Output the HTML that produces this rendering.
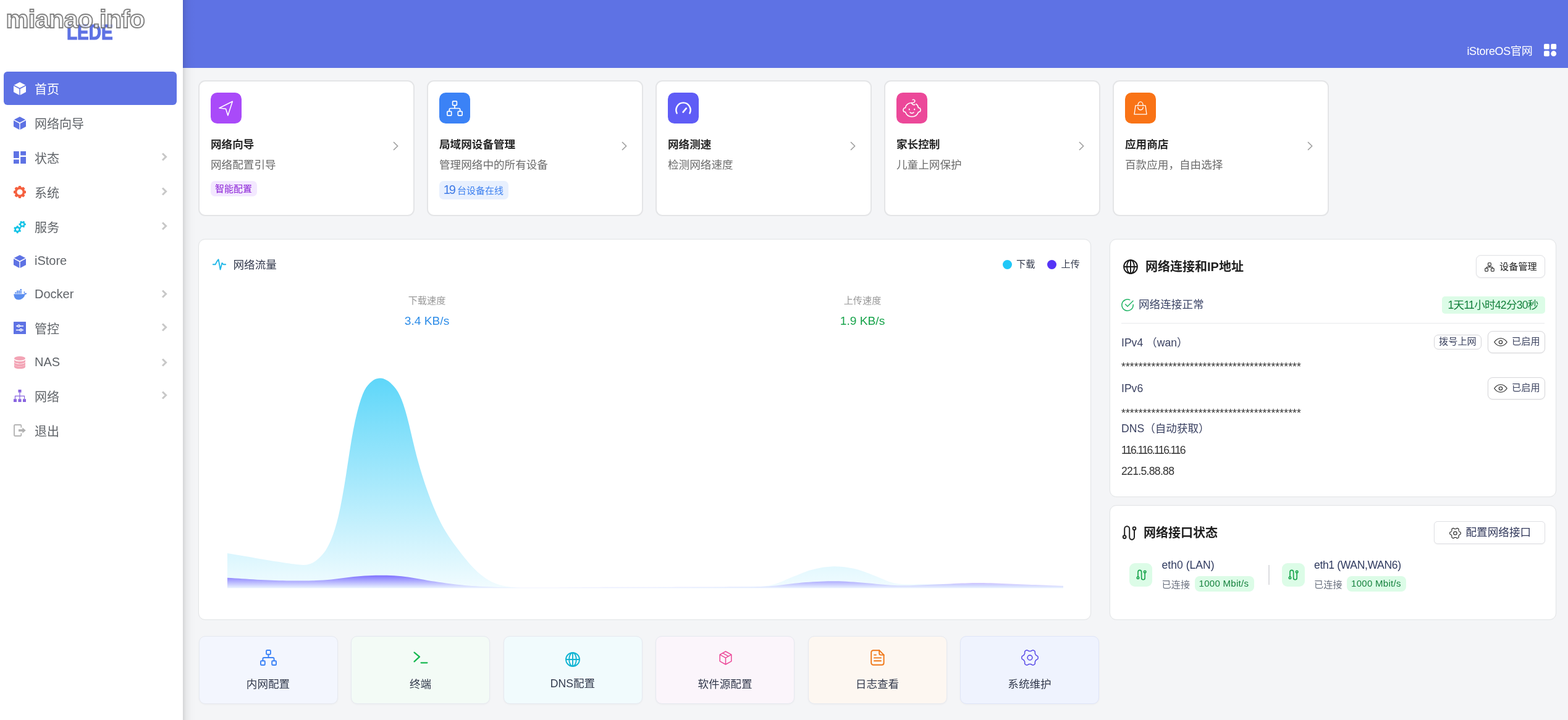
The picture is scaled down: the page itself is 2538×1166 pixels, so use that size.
<!DOCTYPE html>
<html lang="zh-CN">
<head>
<meta charset="utf-8">
<title>LEDE - 首页</title>
<style>
*{box-sizing:border-box;margin:0;padding:0}
html,body{width:2538px;height:1166px;overflow:hidden;background:#f4f5f7}
body{position:relative;font-family:"Liberation Sans","Noto Sans CJK SC",sans-serif;color:#32325d;-webkit-font-smoothing:antialiased}
.abs{position:absolute}
.t{position:absolute;white-space:nowrap;line-height:1}
svg{position:absolute;overflow:visible}
/* layout */
#header{position:absolute;left:296px;top:0;width:2242px;height:110px;background:#5e72e4}
#side{position:absolute;left:0;top:0;width:296px;height:1166px;background:#fff}
#sideshadow{position:absolute;left:296px;top:0;width:22px;height:1166px;background:linear-gradient(90deg,rgba(0,0,0,.13) 0,rgba(0,0,0,.05) 25%,rgba(0,0,0,.012) 60%,rgba(0,0,0,0) 100%)}
#active{position:absolute;left:6px;top:116px;width:280px;height:54px;border-radius:6px;background:#5e72e4}
.mi{position:absolute;left:56px;font-size:20px;line-height:28px;height:28px;color:#5f6368;white-space:nowrap}
.chev{position:absolute;left:260px;width:12px;height:14px}
.card{position:absolute;background:#fff;border:1px solid #e3e5e7;border-radius:11px;box-shadow:0 0 2px rgba(0,0,0,.03)}
.card.top{border:2px solid #e4e5e7;border-radius:11px;box-shadow:none}
.ico{position:absolute;width:50px;height:50px;border-radius:10.500px}
.ct{position:absolute;font-size:17.6px;font-weight:700;color:#262626;line-height:26px;white-space:nowrap}
.cs{position:absolute;font-size:17.6px;color:#6b6b6b;line-height:26px;white-space:nowrap}
.btn{position:absolute;background:#fff;border:1px solid #dfe0e4;border-radius:8px;box-shadow:0 1px 2px rgba(0,0,0,.05)}
.qa{position:absolute;top:1029.500px;width:225px;height:110px;border-radius:10px;border:1px solid #e6e9f0;box-shadow:0 1px 3px rgba(0,0,0,.04)}
.qa span{position:absolute;left:0;right:0;top:64.500px;text-align:center;font-size:17.6px;line-height:26px;color:#333a4d}
.row{position:absolute;left:1815px;font-size:17.6px;line-height:26px;color:#3b4262;white-space:nowrap}
</style>
</head>
<body>
<div id="header"></div>
<div id="sideshadow"></div>
<div id="side"></div>
<div class="t" id="wm" style="left:9.500px;top:8px;font-size:41.500px;line-height:46px;font-weight:700;letter-spacing:-.750px;filter:blur(.35px);color:rgba(255,255,255,.75);-webkit-text-stroke:1.850px rgba(112,112,112,.88);z-index:5">mianao.info</div>
<div class="t" id="logo" style="left:108px;top:33.700px;font-size:35px;line-height:35px;font-weight:700;color:#5e72e4;transform-origin:0 50%;transform:scaleX(.8);-webkit-text-stroke:1.2px #5e72e4">LEDE</div>
<div id="active"></div>
<!-- icons -->
<svg style="left:22px;top:132.5px" width="20" height="21" viewBox="0 0 20 21"><g fill="#fff"><path d="M10 0 19.2 4.7 10 9.6 0.8 4.7Z"/><path d="M0 6.1 9.3 11 9.3 21 0 16Z"/><path d="M20 6.1 10.7 11 10.7 21 20 16Z"/></g></svg>
<svg style="left:22px;top:188.5px" width="20" height="21" viewBox="0 0 20 21"><g fill="#5e72e4"><path d="M10 0 19.2 4.7 10 9.6 0.8 4.7Z"/><path d="M0 6.1 9.3 11 9.3 21 0 16Z"/><path d="M20 6.1 10.7 11 10.7 21 20 16Z"/></g></svg>
<svg style="left:22px;top:245px" width="20" height="20" viewBox="0 0 20 20"><g fill="#5e72e4"><rect x="0" y="0" width="8.8" height="11"/><rect x="11.2" y="0" width="8.8" height="6.6"/><rect x="0" y="13.4" width="8.8" height="6.6"/><rect x="11.2" y="9" width="8.8" height="11"/></g></svg>
<svg style="left:22px;top:301px" width="20" height="20" viewBox="0 0 20 20"><g transform="translate(10 10)"><circle r="6.4" fill="none" stroke="#f5603f" stroke-width="3.6"/><g fill="#f5603f"><rect x="-2.2" y="-10" width="4.4" height="4" rx="1"/><rect x="-2.2" y="-10" width="4.4" height="4" rx="1" transform="rotate(45)"/><rect x="-2.2" y="-10" width="4.4" height="4" rx="1" transform="rotate(90)"/><rect x="-2.2" y="-10" width="4.4" height="4" rx="1" transform="rotate(135)"/><rect x="-2.2" y="-10" width="4.4" height="4" rx="1" transform="rotate(180)"/><rect x="-2.2" y="-10" width="4.4" height="4" rx="1" transform="rotate(225)"/><rect x="-2.2" y="-10" width="4.4" height="4" rx="1" transform="rotate(270)"/><rect x="-2.2" y="-10" width="4.4" height="4" rx="1" transform="rotate(315)"/></g></g></svg>
<svg style="left:22px;top:357px" width="20" height="21" viewBox="0 0 20 21"><g id="sg" transform="translate(6.2 14.6)"><circle r="3.5" fill="none" stroke="#11c3e6" stroke-width="2.6"/><g fill="#11c3e6"><rect x="-1.4" y="-6.2" width="2.8" height="2.6" rx=".6"/><rect x="-1.4" y="-6.2" width="2.8" height="2.6" rx=".6" transform="rotate(60)"/><rect x="-1.4" y="-6.2" width="2.8" height="2.6" rx=".6" transform="rotate(120)"/><rect x="-1.4" y="-6.2" width="2.8" height="2.6" rx=".6" transform="rotate(180)"/><rect x="-1.4" y="-6.2" width="2.8" height="2.6" rx=".6" transform="rotate(240)"/><rect x="-1.4" y="-6.2" width="2.8" height="2.6" rx=".6" transform="rotate(300)"/></g></g><g transform="translate(14.2 6.2) scale(.92)"><circle r="3.5" fill="none" stroke="#11c3e6" stroke-width="2.6"/><g fill="#11c3e6"><rect x="-1.4" y="-6.2" width="2.8" height="2.6" rx=".6" transform="rotate(30)"/><rect x="-1.4" y="-6.2" width="2.8" height="2.6" rx=".6" transform="rotate(90)"/><rect x="-1.4" y="-6.2" width="2.8" height="2.6" rx=".6" transform="rotate(150)"/><rect x="-1.4" y="-6.2" width="2.8" height="2.6" rx=".6" transform="rotate(210)"/><rect x="-1.4" y="-6.2" width="2.8" height="2.6" rx=".6" transform="rotate(270)"/><rect x="-1.4" y="-6.2" width="2.8" height="2.6" rx=".6" transform="rotate(330)"/></g></g></svg>
<svg style="left:22px;top:412.5px" width="20" height="21" viewBox="0 0 20 21"><g fill="#5e72e4"><path d="M10 0 19.2 4.7 10 9.6 0.8 4.7Z"/><path d="M0 6.1 9.3 11 9.3 21 0 16Z"/><path d="M20 6.1 10.7 11 10.7 21 20 16Z"/></g></svg>
<svg style="left:22px;top:467.5px" width="22" height="18" viewBox="0 0 22 18"><g fill="#5b8def"><path d="M.3 8.2H16.6C17.4 8.1 17.9 7.6 18.2 6.9 19.3 6.3 20.6 6.5 21.6 7 21 8.3 19.9 9 18.4 9.1 17.6 13.6 13.8 17.4 8.2 17.4 3.5 17.4.6 14.4.3 8.2Z"/><rect x="2.2" y="5.2" width="2.3" height="2.2"/><rect x="5" y="5.2" width="2.3" height="2.2"/><rect x="7.8" y="5.2" width="2.3" height="2.2"/><rect x="10.6" y="5.2" width="2.3" height="2.2"/><rect x="5" y="2.6" width="2.3" height="2.2"/><rect x="7.8" y="2.6" width="2.3" height="2.2"/><rect x="10.6" y="2.6" width="2.3" height="2.2"/><rect x="10.6" y="0" width="2.3" height="2.2"/><path d="M17.2 3.6C18 4.4 18.3 5.4 18.1 6.6L17.2 7.2C16.4 6 16.4 4.7 17.2 3.6Z"/></g></svg>
<svg style="left:22px;top:521px" width="20" height="20" viewBox="0 0 20 20"><rect width="20" height="20" rx=".6" fill="#5e72e4"/><g stroke="#fff" stroke-width="1.5" fill="#5e72e4"><path d="M4 6.9H16M4 13.4H16" fill="none"/><circle cx="8.4" cy="6.9" r="1.7"/><circle cx="11.8" cy="13.4" r="1.7"/></g></svg>
<svg style="left:23px;top:577px" width="18" height="20" viewBox="0 0 18 20"><g fill="#f3a4b5"><ellipse cx="9" cy="3.4" rx="9" ry="3.4"/><path d="M0 5.4C1.5 7.6 5 8.3 9 8.3S16.500 7.600 18 5.400V8.600C18 10.500 14 12 9 12S0 10.500 0 8.600Z"/><path d="M0 9.400C1.5 11.600 5 12.300 9 12.300S16.500 11.600 18 9.400V12.600C18 14.500 14 16 9 16S0 14.500 0 12.600Z" transform="translate(0 .3)"/><path d="M0 13.400C1.5 15.600 5 16.300 9 16.300S16.500 15.600 18 13.400V16.600C18 18.500 14 20 9 20S0 18.500 0 16.600Z" transform="translate(0 .3)"/></g></svg>
<svg style="left:22px;top:631px" width="20" height="20" viewBox="0 0 20 20"><g fill="#8965e0"><rect x="7.500" y="0" width="5" height="4.600"/><rect x="0" y="15.200" width="5" height="4.800"/><rect x="7.500" y="15.200" width="5" height="4.800"/><rect x="15" y="15.200" width="5" height="4.800"/></g><path d="M10 4.600V15.200M2.500 15.200V10.300H17.500V15.200" fill="none" stroke="#8965e0" stroke-width="1.200"/></svg>
<svg style="left:22px;top:687px" width="20" height="20" viewBox="0 0 20 20"><path d="M12.300 5.500V2.200C12.300 1.500 11.800 1 11.100 1H2.200C1.500 1 1 1.500 1 2.200V17.800C1 18.500 1.500 19 2.200 19H11.100C11.800 19 12.300 18.500 12.300 17.800V14.500" fill="none" stroke="#b5b5b5" stroke-width="1.900"/><path d="M8 8.200H14.300V5.400L19.800 10 14.300 14.600V11.800H8Z" fill="#b0b0b0"/></svg>
<!-- labels -->
<div class="mi" style="top:131px;color:#fff">首页</div>
<div class="mi" style="top:187px">网络向导</div>
<div class="mi" style="top:243px">状态</div>
<div class="mi" style="top:299px">系统</div>
<div class="mi" style="top:355px">服务</div>
<div class="mi" style="top:408.3px">iStore</div>
<div class="mi" style="top:462.3px">Docker</div>
<div class="mi" style="top:519px">管控</div>
<div class="mi" style="top:572.3px">NAS</div>
<div class="mi" style="top:629px">网络</div>
<div class="mi" style="top:685px">退出</div>
<!-- chevrons -->
<svg class="chev" style="top:246.9px" viewBox="0 0 12 14"><path d="M3 1.500 8.600 7 3 12.500" fill="none" stroke="#c8c8c8" stroke-width="3" stroke-linejoin="miter"/></svg>
<svg class="chev" style="top:302.9px" viewBox="0 0 12 14"><path d="M3 1.500 8.600 7 3 12.500" fill="none" stroke="#c8c8c8" stroke-width="3"/></svg>
<svg class="chev" style="top:358.9px" viewBox="0 0 12 14"><path d="M3 1.500 8.600 7 3 12.500" fill="none" stroke="#c8c8c8" stroke-width="3"/></svg>
<svg class="chev" style="top:468.9px" viewBox="0 0 12 14"><path d="M3 1.500 8.600 7 3 12.500" fill="none" stroke="#c8c8c8" stroke-width="3"/></svg>
<svg class="chev" style="top:522.9px" viewBox="0 0 12 14"><path d="M3 1.500 8.600 7 3 12.500" fill="none" stroke="#c8c8c8" stroke-width="3"/></svg>
<svg class="chev" style="top:579.8px" viewBox="0 0 12 14"><path d="M3 1.500 8.600 7 3 12.500" fill="none" stroke="#c8c8c8" stroke-width="3"/></svg>
<svg class="chev" style="top:632.9px" viewBox="0 0 12 14"><path d="M3 1.500 8.600 7 3 12.500" fill="none" stroke="#c8c8c8" stroke-width="3"/></svg>

<div class="t" style="left:2374.400px;top:70.300px;font-size:18px;line-height:26px;color:#fff;letter-spacing:-.3px">iStoreOS官网</div>
<svg style="left:2499px;top:70.800px" width="20.200" height="20.200" viewBox="0 0 21 21"><g fill="#fff"><rect x="0" y="0" width="9.200" height="9.200" rx="2"/><rect x="11.800" y="0" width="9.200" height="9.200" rx="2"/><rect x="0" y="11.800" width="9.200" height="9.200" rx="2"/><circle cx="16.400" cy="16.400" r="4.600"/></g></svg>

<div class="card top" style="left:321px;top:130px;width:349.700px;height:220.400px"></div>
<div class="ico" style="left:341px;top:150px;background:#a94af9"></div>
<svg style="left:354.0px;top:163px" width="24" height="25" viewBox="0 0 24 25"><path d="M22.300 1.300 0.900 12 11.500 13.300 14.900 24Z" fill="none" stroke="#fff" stroke-width="1.600" stroke-linejoin="round"/></svg>
<div class="ct" style="left:341px;top:220.900px">网络向导</div>
<div class="cs" style="left:341px;top:253.500px">网络配置引导</div>
<svg style="left:636px;top:229px" width="9" height="15" viewBox="0 0 9 15"><path d="M1 1 7.600 7.500 1 14" fill="none" stroke="#9a9a9a" stroke-width="1.500"/></svg>
<div class="card top" style="left:691px;top:130px;width:349.700px;height:220.400px"></div>
<div class="ico" style="left:711px;top:150px;background:#3b82f6"></div>
<svg style="left:723.0px;top:162.500px" width="26" height="25" viewBox="0 0 26 25"><g fill="none" stroke="#fff" stroke-width="1.700" stroke-linejoin="round"><rect x="9.600" y=".900" width="6.800" height="6.800" rx="1.200"/><rect x=".900" y="17.300" width="6.800" height="6.800" rx="1.200"/><rect x="18.300" y="17.300" width="6.800" height="6.800" rx="1.200"/><path d="M13 7.700V12.500M4.300 17.300V14.500C4.300 13.400 5.200 12.500 6.300 12.500H19.700C20.800 12.500 21.700 13.400 21.700 14.500V17.300"/></g></svg>
<div class="ct" style="left:711px;top:220.900px">局域网设备管理</div>
<div class="cs" style="left:711px;top:253.500px">管理网络中的所有设备</div>
<svg style="left:1006px;top:229px" width="9" height="15" viewBox="0 0 9 15"><path d="M1 1 7.600 7.500 1 14" fill="none" stroke="#9a9a9a" stroke-width="1.500"/></svg>
<div class="card top" style="left:1061px;top:130px;width:349.700px;height:220.400px"></div>
<div class="ico" style="left:1081px;top:150px;background:#5f5cf6"></div>
<svg style="left:1093.0px;top:165px" width="26" height="20" viewBox="0 0 26 20"><g fill="none" stroke="#fff" stroke-width="2.400" stroke-linecap="round"><path d="M2.600 18.400C-1 11 4 1.400 13 1.400S27 11 23.400 18.400"/><path d="M12.600 16.600 17.800 10.400" stroke-width="2.600"/></g></svg>
<div class="ct" style="left:1081px;top:220.900px">网络测速</div>
<div class="cs" style="left:1081px;top:253.500px">检测网络速度</div>
<svg style="left:1376px;top:229px" width="9" height="15" viewBox="0 0 9 15"><path d="M1 1 7.600 7.500 1 14" fill="none" stroke="#9a9a9a" stroke-width="1.500"/></svg>
<div class="card top" style="left:1431px;top:130px;width:349.700px;height:220.400px"></div>
<div class="ico" style="left:1451px;top:150px;background:#ec4899"></div>
<svg style="left:1461.0px;top:160px" width="30" height="30" viewBox="0 0 30 30"><g fill="none" stroke="#fff" stroke-width="1.600" stroke-linecap="round"><path d="M14.500 6.500C9 6.500 5 10.200 4.500 14.500 2.500 14.500 1 16 1 18S2.500 21.500 4.500 21.500C6 26 10 29 15 29S24 26 25.500 21.500C27.500 21.500 29 20 29 18S27.500 14.500 25.500 14.500C25.200 12 23.800 9.800 21.800 8.400"/><path d="M14.500 6.500C17.500 6.800 19.800 5.600 19.800 3.600 19.800 1.800 17.800.800 16.200 1.600M14.500 6.500C15.200 9 17.800 10.200 19.800 9.400"/><path d="M10.800 16.800V17.600M19.200 16.800V17.600" stroke-width="2"/><path d="M12 22C13.600 23.800 16.400 23.800 18 22"/></g></svg>
<div class="ct" style="left:1451px;top:220.900px">家长控制</div>
<div class="cs" style="left:1451px;top:253.500px">儿童上网保护</div>
<svg style="left:1746px;top:229px" width="9" height="15" viewBox="0 0 9 15"><path d="M1 1 7.600 7.500 1 14" fill="none" stroke="#9a9a9a" stroke-width="1.500"/></svg>
<div class="card top" style="left:1801px;top:130px;width:349.700px;height:220.400px"></div>
<div class="ico" style="left:1821px;top:150px;background:#f97316"></div>
<svg style="left:1835.0px;top:164px" width="22" height="22" viewBox="0 0 22 22"><g fill="none" stroke="#fff" stroke-width="1.300" stroke-linejoin="round" stroke-linecap="round"><path d="M3 6.800H19L21 21.200H1Z"/><path d="M6.800 6.800C6.800 3.500 8.600.800 11 .800S15.200 3.500 15.200 6.800"/><path d="M6.800 9.600C6.800 12.200 8.600 14 11 14S15.200 12.200 15.200 9.600"/></g></svg>
<div class="ct" style="left:1821px;top:220.900px">应用商店</div>
<div class="cs" style="left:1821px;top:253.500px">百款应用，自由选择</div>
<svg style="left:2116px;top:229px" width="9" height="15" viewBox="0 0 9 15"><path d="M1 1 7.600 7.500 1 14" fill="none" stroke="#9a9a9a" stroke-width="1.500"/></svg>
<div class="abs" style="left:341px;top:293px;width:75px;height:24.500px;border-radius:7px;background:#f3e8ff"></div>
<div class="t" style="left:348px;top:296px;font-size:15px;line-height:19px;color:#8b22d6">智能配置</div>
<div class="abs" style="left:711px;top:293px;width:112px;height:30px;border-radius:7px;background:#e8f0fe"></div>
<div class="t" style="left:717.800px;top:294px;font-size:20px;line-height:26px;color:#3f7ae6;letter-spacing:-2.200px">19</div>
<div class="t" style="left:740px;top:298.600px;font-size:15px;line-height:20px;color:#3f82f0">台设备在线</div>

<div class="card" style="left:321px;top:387px;width:1445px;height:617px"></div>
<svg style="left:344px;top:419px" width="22" height="19" viewBox="0 0 22 19"><path d="M.8 9.2H4.600L7 4.600 9.600 1.200 12.600 17.600 15.400 7 17.400 9.200H21.200" fill="none" stroke="#22b8e8" stroke-width="1.900" stroke-linejoin="round" stroke-linecap="round"/></svg>
<div class="t" style="left:377.500px;top:415.500px;font-size:17.600px;line-height:26px;color:#333a4d">网络流量</div>
<div class="abs" style="left:1622.500px;top:420.500px;width:15px;height:15px;border-radius:50%;background:#20c7f7"></div>
<div class="t" style="left:1645px;top:417px;font-size:15.200px;line-height:22px;color:#333a4d">下载</div>
<div class="abs" style="left:1694.500px;top:420.500px;width:15px;height:15px;border-radius:50%;background:#5534f6"></div>
<div class="t" style="left:1717.500px;top:417px;font-size:15.200px;line-height:22px;color:#333a4d">上传</div>
<div class="t" style="left:591px;width:200px;text-align:center;top:476px;font-size:15.200px;line-height:22px;color:#999">下载速度</div>
<div class="t" style="left:591px;width:200px;text-align:center;top:507px;font-size:19.200px;line-height:26px;color:#2e8de8">3.4 KB/s</div>
<div class="t" style="left:1296px;width:200px;text-align:center;top:476px;font-size:15.200px;line-height:22px;color:#999">上传速度</div>
<div class="t" style="left:1296px;width:200px;text-align:center;top:507px;font-size:19.200px;line-height:26px;color:#16a34a">1.9 KB/s</div>
<svg style="left:0;top:0" width="2538" height="1166" viewBox="0 0 2538 1166"><defs><linearGradient id="gc" gradientUnits="userSpaceOnUse" x1="0" y1="613" x2="0" y2="952.500"><stop offset="0" stop-color="#20c7f7" stop-opacity=".72"/><stop offset="1" stop-color="#20c7f7" stop-opacity=".06"/></linearGradient><linearGradient id="gp" gradientUnits="userSpaceOnUse" x1="0" y1="931.500" x2="0" y2="952.500"><stop offset="0" stop-color="#553bff" stop-opacity=".72"/><stop offset="1" stop-color="#553bff" stop-opacity=".04"/></linearGradient></defs>
<path d="M368.0 895.90L371 896.42L374 896.93L377 897.45L380 897.96L383 898.48L386 899.00L389 899.52L392 900.03L395 900.55L398 901.06L401 901.58L404 902.09L407 902.61L410 903.12L413 903.63L416 904.14L419 904.65L422 905.16L425 905.66L428 906.17L431 906.66L434 907.16L437 907.66L440 908.15L443 908.64L446 909.13L449 909.62L452 910.10L455 910.57L458 911.04L461 911.50L464 911.94L467 912.37L470 912.79L473 913.20L476 913.60L479 913.98L482 914.32L485 914.61L488 914.81L491 914.89L494 914.78L497 914.40L500 913.71L503 912.70L506 911.38L509 909.71L512 907.58L515 905.02L518 902.19L521 899.10L524 895.59L527 891.40L530 886.36L533 880.43L536 873.64L539 865.92L542 857.08L545 846.80L548 834.76L551 820.88L554 805.34L557 788.29L560 769.73L563 750.06L566 730.44L569 712.03L572 695.39L575 680.69L578 667.88L581 656.69L584 646.94L587 638.68L590 632.05L593 627.00L596 623.16L599 620.04L602 617.41L605 615.33L608 613.86L611 612.92L614 612.47L617 612.53L620 613.11L623 614.17L626 615.66L629 617.61L632 620.03L635 622.88L638 626.14L641 629.93L644 634.51L647 640.15L650 647.06L653 655.31L656 664.87L659 675.62L662 687.37L665 699.90L668 712.80L671 725.37L674 737.19L677 748.25L680 758.67L683 768.55L686 777.94L689 786.90L692 795.50L695 803.74L698 811.63L701 819.16L704 826.32L707 833.13L710 839.58L713 845.69L716 851.43L719 856.79L722 861.80L725 866.52L728 871.03L731 875.41L734 879.66L737 883.81L740 887.84L743 891.79L746 895.65L749 899.44L752 903.17L755 906.84L758 910.43L761 913.90L764 917.22L767 920.36L770 923.33L773 926.13L776 928.75L779 931.22L782 933.53L785 935.68L788 937.68L791 939.53L794 941.21L797 942.72L800 944.05L803 945.22L806 946.24L809 947.14L812 947.94L815 948.64L818 949.26L821 949.80L824 950.27L827 950.68L830 951.05L833 951.37L836 951.63L839 951.80L842 951.89L845 951.93L848 951.95L851 951.97L854 951.98L857 951.99L860 952.00L863 952.01L866 952.01L869 952.02L872 952.02L875 952.01L878 952.01L881 952.00L884 952.00L887 951.99L890 951.98L893 951.97L896 951.96L899 951.95L902 951.94L905 951.93L908 951.92L911 951.91L914 951.89L917 951.88L920 951.87L923 951.86L926 951.84L929 951.83L932 951.82L935 951.80L938 951.79L941 951.77L944 951.76L947 951.75L950 951.73L953 951.72L956 951.71L959 951.69L962 951.68L965 951.67L968 951.66L971 951.64L974 951.63L977 951.62L980 951.61L983 951.60L986 951.59L989 951.58L992 951.57L995 951.56L998 951.56L1001 951.55L1004 951.54L1007 951.53L1010 951.52L1013 951.52L1016 951.51L1019 951.50L1022 951.49L1025 951.49L1028 951.48L1031 951.47L1034 951.46L1037 951.46L1040 951.45L1043 951.44L1046 951.43L1049 951.42L1052 951.42L1055 951.41L1058 951.40L1061 951.39L1064 951.38L1067 951.37L1070 951.36L1073 951.35L1076 951.34L1079 951.33L1082 951.32L1085 951.30L1088 951.29L1091 951.28L1094 951.26L1097 951.25L1100 951.23L1103 951.22L1106 951.20L1109 951.18L1112 951.16L1115 951.15L1118 951.13L1121 951.11L1124 951.09L1127 951.08L1130 951.06L1133 951.04L1136 951.02L1139 951.00L1142 950.98L1145 950.96L1148 950.94L1151 950.92L1154 950.89L1157 950.87L1160 950.84L1163 950.82L1166 950.79L1169 950.76L1172 950.73L1175 950.69L1178 950.66L1181 950.62L1184 950.58L1187 950.54L1190 950.49L1193 950.44L1196 950.38L1199 950.32L1202 950.27L1205 950.22L1208 950.18L1211 950.15L1214 950.13L1217 950.11L1220 950.09L1223 950.06L1226 950.01L1229 949.92L1232 949.77L1235 949.56L1238 949.26L1241 948.87L1244 948.38L1247 947.79L1250 947.08L1253 946.25L1256 945.31L1259 944.25L1262 943.11L1265 941.90L1268 940.64L1271 939.34L1274 938.03L1277 936.75L1280 935.50L1283 934.29L1286 933.11L1289 931.92L1292 930.71L1295 929.49L1298 928.27L1301 927.07L1304 925.92L1307 924.84L1310 923.85L1313 922.96L1316 922.15L1319 921.42L1322 920.75L1325 920.13L1328 919.57L1331 919.06L1334 918.61L1337 918.23L1340 917.91L1343 917.65L1346 917.47L1349 917.37L1352 917.35L1355 917.40L1358 917.53L1361 917.73L1364 918.00L1367 918.34L1370 918.73L1373 919.18L1376 919.69L1379 920.25L1382 920.87L1385 921.55L1388 922.32L1391 923.19L1394 924.15L1397 925.18L1400 926.28L1403 927.43L1406 928.59L1409 929.75L1412 930.90L1415 932.04L1418 933.20L1421 934.42L1424 935.69L1427 937.01L1430 938.32L1433 939.60L1436 940.80L1439 941.90L1442 942.87L1445 943.71L1448 944.40L1451 944.96L1454 945.40L1457 945.74L1460 945.98L1463 946.13L1466 946.22L1469 946.26L1472 946.25L1475 946.22L1478 946.18L1481 946.13L1484 946.08L1487 946.04L1490 946.01L1493 945.99L1496 945.99L1499 946.00L1502 946.01L1505 946.03L1508 946.05L1511 946.06L1514 946.07L1517 946.07L1520 946.08L1523 946.08L1526 946.09L1529 946.09L1532 946.09L1535 946.09L1538 946.09L1541 946.09L1544 946.09L1547 946.09L1550 946.09L1553 946.09L1556 946.09L1559 946.09L1562 946.09L1565 946.09L1568 946.09L1571 946.09L1574 946.10L1577 946.10L1580 946.11L1583 946.12L1586 946.13L1589 946.14L1592 946.16L1595 946.18L1598 946.20L1601 946.23L1604 946.26L1607 946.29L1610 946.33L1613 946.37L1616 946.42L1619 946.47L1622 946.52L1625 946.57L1628 946.63L1631 946.70L1634 946.76L1637 946.83L1640 946.90L1643 946.98L1646 947.05L1649 947.12L1652 947.20L1655 947.28L1658 947.35L1661 947.43L1664 947.50L1667 947.58L1670 947.66L1673 947.74L1676 947.83L1679 947.92L1682 948.00L1685 948.09L1688 948.18L1691 948.27L1694 948.36L1697 948.46L1700 948.55L1703 948.64L1706 948.74L1709 948.83L1712 948.92L1715 949.02L1718 949.11L1721 949.20L1721.0 952.5L368.0 952.5Z" fill="url(#gc)"/>
<path d="M368.0 935.71L374 936.07L380 936.45L386 936.83L392 937.20L398 937.58L404 937.94L410 938.30L416 938.65L422 938.97L428 939.28L434 939.56L440 939.80L446 940.01L452 940.18L458 940.33L464 940.45L470 940.54L476 940.60L482 940.62L488 940.61L494 940.57L500 940.48L506 940.33L512 940.12L518 939.83L524 939.46L530 939.01L536 938.45L542 937.79L548 937.04L554 936.23L560 935.41L566 934.64L572 933.95L578 933.38L584 932.90L590 932.50L596 932.18L602 931.95L608 931.80L614 931.74L620 931.75L626 931.83L632 932.00L638 932.28L644 932.68L650 933.21L656 933.90L662 934.73L668 935.68L674 936.72L680 937.80L686 938.87L692 939.92L698 940.90L704 941.83L710 942.73L716 943.60L722 944.45L728 945.26L734 946.02L740 946.72L746 947.36L752 947.93L758 948.44L764 948.88L770 949.28L776 949.65L782 949.98L788 950.29L794 950.59L800 950.85L806 951.08L812 951.25L818 951.36L824 951.44L830 951.50L836 951.54L842 951.56L848 951.57L854 951.56L860 951.55L866 951.54L872 951.52L878 951.50L884 951.47L890 951.45L896 951.42L902 951.39L908 951.35L914 951.32L920 951.27L926 951.23L932 951.18L938 951.13L944 951.08L950 951.03L956 950.98L962 950.94L968 950.89L974 950.85L980 950.81L986 950.77L992 950.74L998 950.71L1004 950.69L1010 950.67L1016 950.66L1022 950.65L1028 950.64L1034 950.64L1040 950.63L1046 950.63L1052 950.63L1058 950.63L1064 950.63L1070 950.63L1076 950.63L1082 950.63L1088 950.63L1094 950.62L1100 950.61L1106 950.60L1112 950.58L1118 950.57L1124 950.55L1130 950.53L1136 950.52L1142 950.50L1148 950.48L1154 950.45L1160 950.43L1166 950.40L1172 950.38L1178 950.35L1184 950.31L1190 950.27L1196 950.23L1202 950.19L1208 950.17L1214 950.15L1220 950.15L1226 950.11L1232 950.01L1238 949.80L1244 949.47L1250 949.02L1256 948.45L1262 947.78L1268 947.04L1274 946.28L1280 945.52L1286 944.80L1292 944.14L1298 943.56L1304 943.08L1310 942.66L1316 942.29L1322 941.97L1328 941.70L1334 941.49L1340 941.34L1346 941.26L1352 941.25L1358 941.34L1364 941.53L1370 941.81L1376 942.16L1382 942.56L1388 942.98L1394 943.42L1400 943.91L1406 944.45L1412 945.03L1418 945.63L1424 946.22L1430 946.79L1436 947.29L1442 947.71L1448 948.03L1454 948.23L1460 948.30L1466 948.26L1472 948.13L1478 947.93L1484 947.69L1490 947.44L1496 947.20L1502 946.97L1508 946.75L1514 946.51L1520 946.24L1526 945.96L1532 945.68L1538 945.39L1544 945.12L1550 944.86L1556 944.62L1562 944.42L1568 944.24L1574 944.12L1580 944.05L1586 944.03L1592 944.08L1598 944.17L1604 944.31L1610 944.49L1616 944.69L1622 944.92L1628 945.17L1634 945.42L1640 945.69L1646 945.95L1652 946.20L1658 946.44L1664 946.67L1670 946.88L1676 947.10L1682 947.32L1688 947.55L1694 947.77L1700 948.00L1706 948.23L1712 948.46L1718 948.69L1721 948.80L1721.0 952.5L368.0 952.5Z" fill="url(#gp)"/>
</svg>

<div class="card" style="left:1796px;top:387px;width:723px;height:418px"></div>
<svg style="left:1818px;top:420px" width="24" height="24" viewBox="0 0 24 24"><g fill="none" stroke="#1a1a1a" stroke-width="1.900"><circle cx="12" cy="12" r="10.900"/><ellipse cx="12" cy="12" rx="6" ry="10.900"/><path d="M12 1.100V22.900M1.100 12H22.900"/></g></svg>
<div class="t" style="left:1854px;top:417.500px;font-size:20px;font-weight:700;line-height:28px;color:#1f1f1f">网络连接和IP地址</div>
<div class="btn" style="left:2389px;top:413px;width:112px;height:37px;border-radius:8px"></div>
<svg style="left:2403px;top:425px" width="16" height="15" viewBox="0 0 16 15"><g fill="none" stroke="#444" stroke-width="1.300" stroke-linejoin="round"><rect x="5.600" y=".700" width="4.800" height="4.800" rx="1.200"/><rect x=".700" y="9.500" width="4.800" height="4.800" rx="1.200"/><rect x="10.500" y="9.500" width="4.800" height="4.800" rx="1.200"/><path d="M8 5.500V7.500M3.100 9.500V8.500C3.100 7.900 3.500 7.500 4.100 7.500H11.900C12.500 7.500 12.900 7.900 12.900 8.500V9.500"/></g></svg>
<div class="t" style="left:2427px;top:420.500px;font-size:15.200px;line-height:22px;color:#222">设备管理</div>
<svg style="left:1815px;top:484px" width="20" height="20" viewBox="0 0 20 20"><g fill="none" stroke="#22b566" stroke-width="1.500" stroke-linecap="round" stroke-linejoin="round"><path d="M19.200 9.200V10A9.200 9.200 0 1 1 13.700 1.600"/><path d="M19 3.200 10 12.200 6.600 8.800"/></g></svg>
<div class="t" style="left:1843px;top:480px;font-size:17.600px;line-height:26px;color:#3d4668">网络连接正常</div>
<div class="abs" style="left:2334px;top:480px;width:167px;height:28px;border-radius:5px;background:#dcfce7"></div>
<div class="t" style="left:2343.500px;top:480.500px;font-size:17.600px;line-height:26px;color:#15803d;letter-spacing:-.75px">1天11小时42分30秒</div>
<div class="abs" style="left:1815px;top:523px;width:685px;height:1px;background:#e8e9ec"></div>
<div class="row" style="top:541.500px">IPv4 （wan）</div>
<div class="abs" style="left:2321px;top:542px;width:77px;height:24px;border:1px solid #d4d4d8;border-radius:7px;background:#fff"></div>
<div class="t" style="left:2329px;top:542px;font-size:15.200px;line-height:22px;color:#3d4461">拨号上网</div>
<div class="btn" style="left:2408px;top:536px;width:93px;height:36px;border-radius:8px;border-color:#d6d6da"></div>
<svg style="left:2418px;top:547px" width="22" height="14" viewBox="0 0 22 14"><g fill="none" stroke="#3a3a3a" stroke-width="1.300"><path d="M.800 7C3.500 2.800 7 .800 11 .800S18.500 2.800 21.200 7C18.500 11.200 15 13.200 11 13.200S3.500 11.200.800 7Z"/><circle cx="11" cy="7" r="2.700"/></g></svg>
<div class="t" style="left:2447px;top:542px;font-size:15.200px;line-height:22px;color:#3d4461">已启用</div>
<div class="row" style="top:581px;color:#333;letter-spacing:.08px">******************************************</div>
<div class="row" style="top:616px">IPv6</div>
<div class="btn" style="left:2408px;top:611px;width:93px;height:36px;border-radius:8px;border-color:#d6d6da"></div>
<svg style="left:2418px;top:622px" width="22" height="14" viewBox="0 0 22 14"><g fill="none" stroke="#3a3a3a" stroke-width="1.300"><path d="M.800 7C3.500 2.800 7 .800 11 .800S18.500 2.800 21.200 7C18.500 11.200 15 13.200 11 13.200S3.500 11.200.800 7Z"/><circle cx="11" cy="7" r="2.700"/></g></svg>
<div class="t" style="left:2447px;top:617px;font-size:15.200px;line-height:22px;color:#3d4461">已启用</div>
<div class="row" style="top:656px;color:#333;letter-spacing:.08px">******************************************</div>
<div class="row" style="top:681px">DNS（自动获取）</div>
<div class="row" style="top:716px;color:#333;letter-spacing:-1.600px">116.116.116.116</div>
<div class="row" style="top:750px;color:#333;letter-spacing:-.700px">221.5.88.88</div>

<div class="card" style="left:1796px;top:818px;width:723px;height:186px"></div>
<svg style="left:1816px;top:851px" width="24" height="24" viewBox="0 0 24 24"><g fill="none" stroke="#222" stroke-width="2" stroke-linecap="round"><circle cx="4.200" cy="18.600" r="2.400"/><circle cx="20" cy="4.800" r="2.400"/><path d="M4.200 16.200V5.600C4.200 3.100 6 1.200 8.200 1.200S12.200 3.100 12.200 5.600V18.600C12.200 21 13.900 22.900 16.100 22.900S20 21 20 18.600V7.200"/></g></svg>
<div class="t" style="left:1851px;top:848.500px;font-size:20px;font-weight:700;line-height:28px;color:#1f1f1f">网络接口状态</div>
<div class="btn" style="left:2321px;top:844px;width:180px;height:37px;border-radius:6px"></div>
<svg style="left:2346px;top:853.500px" width="19" height="19" viewBox="0 0 19 19"><g fill="none" stroke="#333" stroke-width="1.250" stroke-linejoin="round"><path d="M18.35 9.50L18.33 9.89L18.28 10.27L18.16 10.64L17.95 10.99L17.61 11.30L17.13 11.54L16.65 11.75L16.28 11.97L16.03 12.20L15.84 12.45L15.67 12.71L15.52 12.97L15.37 13.24L15.23 13.51L15.10 13.80L15.03 14.14L15.03 14.56L15.09 15.09L15.11 15.62L15.02 16.08L14.82 16.43L14.55 16.72L14.25 16.96L13.93 17.16L13.58 17.34L13.22 17.48L12.84 17.57L12.44 17.57L12.00 17.42L11.54 17.13L11.12 16.82L10.75 16.61L10.42 16.50L10.11 16.46L9.80 16.45L9.50 16.45L9.20 16.45L8.89 16.46L8.58 16.50L8.25 16.61L7.88 16.82L7.46 17.13L7.00 17.42L6.56 17.57L6.16 17.57L5.78 17.48L5.42 17.34L5.08 17.16L4.75 16.96L4.45 16.72L4.18 16.43L3.98 16.08L3.89 15.62L3.91 15.09L3.97 14.56L3.97 14.14L3.90 13.80L3.77 13.51L3.63 13.24L3.48 12.98L3.33 12.71L3.16 12.45L2.97 12.20L2.72 11.97L2.35 11.75L1.87 11.54L1.39 11.30L1.05 10.99L0.84 10.64L0.72 10.27L0.67 9.89L0.65 9.50L0.67 9.11L0.72 8.73L0.84 8.36L1.05 8.01L1.39 7.70L1.87 7.46L2.35 7.25L2.72 7.03L2.97 6.80L3.16 6.55L3.33 6.29L3.48 6.02L3.63 5.76L3.77 5.49L3.90 5.20L3.97 4.86L3.97 4.44L3.91 3.91L3.89 3.38L3.98 2.92L4.18 2.57L4.45 2.28L4.75 2.04L5.07 1.84L5.42 1.66L5.78 1.52L6.16 1.43L6.56 1.43L7.00 1.58L7.46 1.87L7.88 2.18L8.25 2.39L8.58 2.50L8.89 2.54L9.20 2.55L9.50 2.55L9.80 2.55L10.11 2.54L10.42 2.50L10.75 2.39L11.12 2.18L11.54 1.87L12.00 1.58L12.44 1.43L12.84 1.43L13.22 1.52L13.58 1.66L13.92 1.84L14.25 2.04L14.55 2.28L14.82 2.57L15.02 2.92L15.11 3.38L15.09 3.91L15.03 4.44L15.03 4.86L15.10 5.20L15.23 5.49L15.37 5.76L15.52 6.03L15.67 6.29L15.84 6.55L16.03 6.80L16.28 7.03L16.65 7.25L17.13 7.46L17.61 7.70L17.95 8.01L18.16 8.36L18.28 8.73L18.33 9.11Z"/><circle cx="9.500" cy="9.500" r="2.700"/></g></svg>
<div class="t" style="left:2372.500px;top:848.500px;font-size:17.600px;line-height:26px;color:#333a5c">配置网络接口</div>
<div class="abs" style="left:1828px;top:912px;width:37px;height:37.500px;border-radius:9px;background:#dcfce7"></div>
<svg style="left:1838.500px;top:921.500px" width="17" height="18" viewBox="0 0 24 24"><g fill="none" stroke="#16a34a" stroke-width="2.300" stroke-linecap="round"><circle cx="4.200" cy="18.600" r="2.400"/><circle cx="20" cy="4.800" r="2.400"/><path d="M4.200 16.200V5.600C4.200 3.100 6 1.200 8.200 1.200S12.200 3.100 12.200 5.600V18.600C12.200 21 13.900 22.900 16.100 22.900S20 21 20 18.600V7.200"/></g></svg>
<div class="t" style="left:1880.500px;top:901.500px;font-size:17.600px;line-height:26px;color:#2f3a5f">eth0 (LAN)</div>
<div class="t" style="left:1880.500px;top:935.500px;font-size:15.200px;line-height:22px;color:#6b7280">已连接</div>
<div class="abs" style="left:1933.500px;top:933px;width:96.500px;height:24.500px;border-radius:8px;background:#dcfce7"></div>
<div class="t" style="left:1940.500px;top:934px;font-size:15px;line-height:22px;color:#15803d;letter-spacing:.3px">1000 Mbit/s</div>
<div class="abs" style="left:2053px;top:915px;width:1.500px;height:31.500px;background:#dcdde0"></div>
<div class="abs" style="left:2074.500px;top:912px;width:37px;height:37.500px;border-radius:9px;background:#dcfce7"></div>
<svg style="left:2085px;top:921.500px" width="17" height="18" viewBox="0 0 24 24"><g fill="none" stroke="#16a34a" stroke-width="2.300" stroke-linecap="round"><circle cx="4.200" cy="18.600" r="2.400"/><circle cx="20" cy="4.800" r="2.400"/><path d="M4.200 16.200V5.600C4.200 3.100 6 1.200 8.200 1.200S12.200 3.100 12.200 5.600V18.600C12.200 21 13.900 22.900 16.100 22.900S20 21 20 18.600V7.200"/></g></svg>
<div class="t" style="left:2127px;top:901.500px;font-size:17.600px;line-height:26px;color:#2f3a5f;letter-spacing:-.380px">eth1 (WAN,WAN6)</div>
<div class="t" style="left:2127px;top:935.500px;font-size:15.200px;line-height:22px;color:#6b7280">已连接</div>
<div class="abs" style="left:2180px;top:933px;width:96px;height:24.500px;border-radius:8px;background:#dcfce7"></div>
<div class="t" style="left:2187px;top:934px;font-size:15px;line-height:22px;color:#15803d;letter-spacing:.3px">1000 Mbit/s</div>

<div class="qa" style="left:321.500px;background:#f3f6fe"><span>内网配置</span></div>
<svg style="left:420.500px;top:1052px" width="27" height="26" viewBox="0 0 27 26"><g fill="none" stroke="#3b82f6" stroke-width="1.900" stroke-linejoin="round"><rect x="10.100" y="1" width="6.800" height="6.800" rx="1.300"/><rect x="1" y="18.200" width="6.800" height="6.800" rx="1.300"/><rect x="19.200" y="18.200" width="6.800" height="6.800" rx="1.300"/><path d="M13.500 7.800V13M4.400 18.200V15C4.400 13.900 5.300 13 6.400 13H20.600C21.700 13 22.600 13.900 22.600 15V18.200"/></g></svg>
<div class="qa" style="left:568px;background:#f3fbf6"><span>终端</span></div>
<svg style="left:669px;top:1055px" width="24" height="20" viewBox="0 0 24 20"><g fill="none" stroke="#16b850" stroke-width="2.300" stroke-linecap="round" stroke-linejoin="round"><path d="M1.600 1.600 10 8.700 1.600 16.400"/><path d="M12.600 18.300H22.400"/></g></svg>
<div class="qa" style="left:814.500px;background:#f1fbfd"><span style="top:63px">DNS配置</span></div>
<svg style="left:915px;top:1056px" width="24" height="24" viewBox="0 0 24 24"><g fill="none" stroke="#13b5d3" stroke-width="1.900"><circle cx="12" cy="12" r="11"/><ellipse cx="12" cy="12" rx="5.800" ry="11"/><path d="M12 1V23M1 12H23"/></g></svg>
<div class="qa" style="left:1061px;background:#fbf5fb"><span>软件源配置</span></div>
<svg style="left:1163.500px;top:1053.500px" width="21" height="23" viewBox="0 0 21 23"><g fill="none" stroke="#ec4899" stroke-width="1.500" stroke-linejoin="round"><path d="M10.500 1 19.800 6.200V16.800L10.500 22 1.200 16.800V6.200Z"/><path d="M1.200 6.200 10.500 11.400 19.800 6.200M10.500 11.400V22M5.800 3.600 15.200 8.800"/></g></svg>
<div class="qa" style="left:1307.500px;background:#fdf7f1"><span>日志查看</span></div>
<svg style="left:1408.500px;top:1052px" width="23" height="26" viewBox="0 0 23 26"><g fill="none" stroke="#f07818" stroke-width="1.900" stroke-linejoin="round" stroke-linecap="round"><path d="M4.500 1.200H14.200L21.600 8.600V21.500C21.600 23.400 20.200 24.800 18.300 24.800H4.500C2.600 24.800 1.200 23.400 1.200 21.500V4.500C1.200 2.600 2.600 1.200 4.500 1.200Z"/><path d="M14.200 1.200V6C14.200 7.500 15.300 8.600 16.800 8.600H21.600"/><path d="M6 8.600H9M6 13.400H17M6 18.200H17"/></g></svg>
<div class="qa" style="left:1554px;background:#eff3fe;border-color:#dfe5f8"><span>系统维护</span></div>
<svg style="left:1652.500px;top:1051px" width="28" height="28" viewBox="0 0 28 28"><g fill="none" stroke="#5a4ce8" stroke-width="1.550" stroke-linejoin="round"><path d="M27.20 14.00L27.17 14.58L27.09 15.15L26.93 15.70L26.63 16.23L26.13 16.69L25.45 17.07L24.75 17.39L24.22 17.72L23.85 18.08L23.57 18.46L23.32 18.85L23.09 19.25L22.87 19.65L22.65 20.06L22.46 20.49L22.33 20.99L22.31 21.62L22.38 22.38L22.39 23.16L22.24 23.82L21.94 24.34L21.54 24.77L21.09 25.12L20.60 25.43L20.09 25.70L19.55 25.91L18.99 26.05L18.39 26.05L17.74 25.85L17.07 25.45L16.44 25.01L15.89 24.71L15.39 24.57L14.92 24.52L14.46 24.50L14.00 24.50L13.54 24.50L13.08 24.52L12.61 24.57L12.11 24.71L11.56 25.01L10.93 25.45L10.26 25.85L9.61 26.05L9.01 26.05L8.45 25.91L7.91 25.70L7.40 25.43L6.91 25.12L6.46 24.77L6.06 24.34L5.76 23.82L5.61 23.16L5.62 22.38L5.69 21.62L5.67 20.99L5.54 20.49L5.35 20.06L5.13 19.65L4.91 19.25L4.68 18.85L4.43 18.46L4.15 18.08L3.78 17.72L3.25 17.39L2.55 17.07L1.87 16.69L1.37 16.23L1.07 15.70L0.91 15.15L0.83 14.58L0.80 14.00L0.83 13.42L0.91 12.85L1.07 12.30L1.37 11.77L1.87 11.31L2.55 10.93L3.25 10.61L3.78 10.28L4.15 9.92L4.43 9.54L4.68 9.15L4.91 8.75L5.13 8.35L5.35 7.94L5.54 7.51L5.67 7.01L5.69 6.38L5.62 5.62L5.61 4.84L5.76 4.18L6.06 3.66L6.46 3.23L6.91 2.88L7.40 2.57L7.91 2.30L8.45 2.09L9.01 1.95L9.61 1.95L10.26 2.15L10.93 2.55L11.56 2.99L12.11 3.29L12.61 3.43L13.08 3.48L13.54 3.50L14.00 3.50L14.46 3.50L14.92 3.48L15.39 3.43L15.89 3.29L16.44 2.99L17.07 2.55L17.74 2.15L18.39 1.95L18.99 1.95L19.55 2.09L20.09 2.30L20.60 2.57L21.09 2.88L21.54 3.23L21.94 3.66L22.24 4.18L22.39 4.84L22.38 5.62L22.31 6.38L22.33 7.01L22.46 7.51L22.65 7.94L22.87 8.35L23.09 8.75L23.32 9.15L23.57 9.54L23.85 9.92L24.22 10.28L24.75 10.61L25.45 10.93L26.13 11.31L26.63 11.77L26.93 12.30L27.09 12.85L27.17 13.42Z"/><circle cx="14" cy="14" r="3.900"/></g></svg>

</body>
</html>
